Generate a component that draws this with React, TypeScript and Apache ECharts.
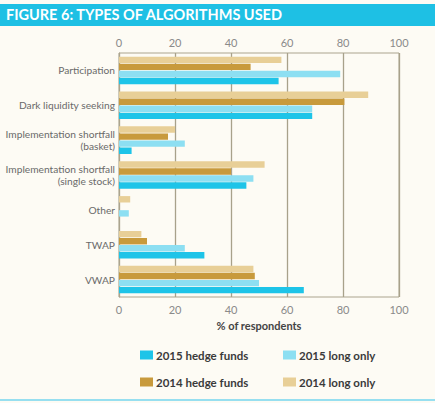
import React, { useEffect, useRef } from "react";
import * as echarts from "echarts";

const categories = [
  "Participation",
  "Dark liquidity seeking",
  "Implementation shortfall\n(basket)",
  "Implementation shortfall\n(single stock)",
  "Other",
  "TWAP",
  "VWAP",
];
const longOnly2014 = [58, 89, 20, 52, 4, 8, 48];
const hedgeFunds2014 = [47, 80.5, 17.5, 40, 0, 10, 48.5];
const longOnly2015 = [79, 69, 23.5, 48, 3.5, 23.5, 50];
const hedgeFunds2015 = [57, 69, 4.5, 45.5, 0, 30.5, 66];
const xTicks = { min: 0, max: 100, interval: 20 };

const C_HF15 = "#1ec4e8";
const C_LO15 = "#8ddff2";
const C_HF14 = "#c89a3c";
const C_LO14 = "#e8cf97";
const FONT = "Lato";

export default function App() {
  const ref = useRef<HTMLDivElement>(null);
  useEffect(() => {
    document.body.style.margin = "0";
    const chart = echarts.init(ref.current!, null, { renderer: "svg" });
    const legendBase = {
      itemWidth: 13,
      itemHeight: 9,
      itemGap: 4,
      icon: "rect",
      selectedMode: false,
      textStyle: { fontFamily: FONT, fontSize: 11.5, fontWeight: "bold", color: "#3a3a3a", padding: [0, 0, 0, -2] },
    };
    const mk = (name: string, data: number[], color: string) => ({
      name,
      type: "bar",
      data,
      barGap: "10%",
      barCategoryGap: "21%",
      itemStyle: { color },
    });
    chart.setOption({
      animation: false,
      backgroundColor: "#fdfbf4",
      graphic: [
        { type: "rect", left: 0, top: 4, shape: { width: 435, height: 22 }, style: { fill: "#1ec0e4" } },
        {
          type: "text",
          left: 6,
          top: 7,
          style: { text: "FIGURE 6: TYPES OF ALGORITHMS USED", fill: "#ffffff", font: `bold 14.5px ${FONT}` },
        },
        { type: "rect", left: 0, top: 399, shape: { width: 435, height: 2 }, style: { fill: "#97dff0" } },
      ],
      grid: {
        left: 119,
        top: 53,
        width: 280,
        height: 244,
        show: true,
        borderColor: "#aba48e",
        borderWidth: 1,
        backgroundColor: "transparent",
      },
      legend: [
        { ...legendBase, data: ["2015 hedge funds"], left: 135, top: 344 },
        { ...legendBase, data: ["2015 long only"], left: 278, top: 344 },
        { ...legendBase, data: ["2014 hedge funds"], left: 135, top: 371 },
        { ...legendBase, data: ["2014 long only"], left: 278, top: 371 },
      ],
      xAxis: [
        {
          type: "value",
          position: "bottom",
          ...xTicks,
          name: "% of respondents",
          nameLocation: "middle",
          nameGap: 23,
          nameTextStyle: { fontFamily: FONT, fontSize: 11, fontWeight: "bold", color: "#444" },
          axisLine: { show: false },
          axisTick: { show: false },
          axisLabel: { fontFamily: FONT, fontSize: 11, color: "#8a8a8a", margin: 7 },
          splitLine: { show: true, lineStyle: { color: "#a8a18a", width: 1.3 } },
        },
        {
          type: "value",
          position: "top",
          ...xTicks,
          axisLine: { show: false },
          axisTick: { show: false },
          axisLabel: { fontFamily: FONT, fontSize: 11, color: "#8a8a8a", margin: 5 },
          splitLine: { show: false },
        },
      ],
      yAxis: {
        type: "category",
        data: categories,
        inverse: true,
        axisLine: { show: true, lineStyle: { color: "#aba48e" } },
        axisTick: { show: false },
        axisLabel: { fontFamily: FONT, fontSize: 10.2, color: "#6a6a6a", margin: 4, lineHeight: 12 },
      },
      series: [
        mk("2014 long only", longOnly2014, C_LO14),
        mk("2014 hedge funds", hedgeFunds2014, C_HF14),
        mk("2015 long only", longOnly2015, C_LO15),
        mk("2015 hedge funds", hedgeFunds2015, C_HF15),
      ],
    });
    return () => chart.dispose();
  }, []);
  return <div ref={ref} style={{ width: 435, height: 403 }} />;
}
